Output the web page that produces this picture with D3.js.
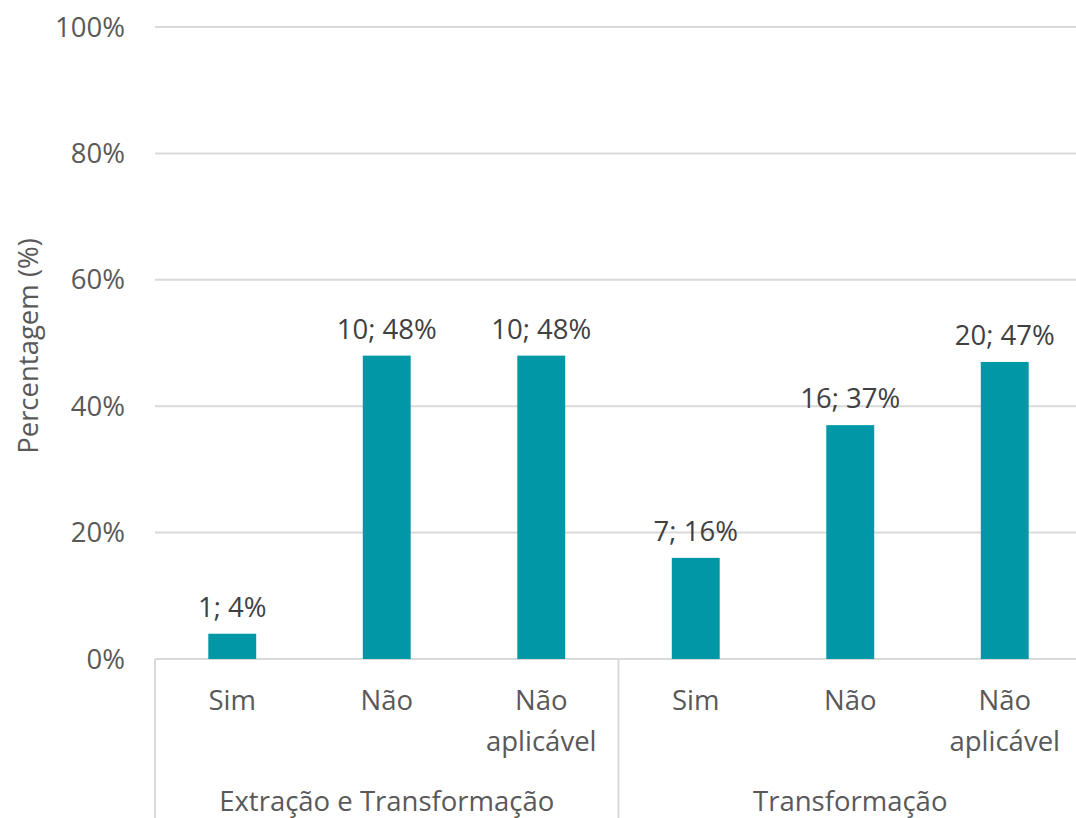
<!DOCTYPE html>
<meta charset="utf-8">
<style>
body { margin: 0; background: #fff; }
text { font-family: "Open Sans", "Noto Sans", sans-serif; }
.grid line { stroke: #d9d9d9; stroke-width: 2px; }
.tick-label { fill: #595959; font-size: 27.5px; }
.bar-label { fill: #404040; font-size: 27.5px; }
</style>
<body>
<script src="https://cdn.jsdelivr.net/npm/d3@7"></script>
<script>

// data
var groups = ["Extração e Transformação", "Transformação"];
var answers = ["Sim", "Não", "Não aplicável"];
var counts = [1, 10, 10, 7, 16, 20];
var percents = [4, 48, 48, 16, 37, 47];
var yTicks = [0, 20, 40, 60, 80, 100];

var W = 1076, H = 818;
var margin = {top: 27, left: 155, bottom: 159};
var plotH = H - margin.top - margin.bottom;
var plotW = 927;

var rows = [];
groups.forEach(function(g, gi) {
  answers.forEach(function(a, ai) {
    var i = gi * answers.length + ai;
    rows.push({key: g + "|" + a, group: g, answer: a, n: counts[i], p: percents[i]});
  });
});

var x = d3.scaleBand()
    .domain(rows.map(function(d) { return d.key; }))
    .range([0, plotW])
    .paddingInner(0.69)
    .paddingOuter(0.345);

var y = d3.scaleLinear().domain([0, 100]).range([plotH, 0]);

var svg = d3.select("body").append("svg")
    .attr("width", W)
    .attr("height", H)
  .append("g")
    .attr("transform", "translate(" + margin.left + "," + margin.top + ")");

// gridlines
svg.append("g")
    .attr("class", "grid")
    .selectAll("line")
    .data(yTicks)
  .enter().append("line")
    .attr("x1", 0)
    .attr("x2", plotW)
    .attr("y1", function(d) { return y(d); })
    .attr("y2", function(d) { return y(d); });

// y tick labels
svg.selectAll(".ytick")
    .data(yTicks)
  .enter().append("text")
    .attr("class", "tick-label")
    .attr("x", -30)
    .attr("y", function(d) { return y(d); })
    .attr("dy", "0.35em")
    .attr("text-anchor", "end")
    .text(function(d) { return d + "%"; });

// y axis title
svg.append("text")
    .attr("class", "tick-label")
    .attr("transform", "translate(" + (-127) + "," + (plotH / 2 + 3) + ") rotate(-90)")
    .attr("text-anchor", "middle")
    .attr("dy", "0.35em")
    .text("Percentagem (%)");

// bars
svg.selectAll(".bar")
    .data(rows)
  .enter().append("rect")
    .attr("x", function(d) { return x(d.key); })
    .attr("width", x.bandwidth())
    .attr("y", function(d) { return y(d.p); })
    .attr("height", function(d) { return plotH - y(d.p); })
    .attr("fill", "#0097a7");

// bar labels
svg.selectAll(".blabel")
    .data(rows)
  .enter().append("text")
    .attr("class", "bar-label")
    .attr("x", function(d) { return x(d.key) + x.bandwidth() / 2; })
    .attr("y", function(d) { return y(d.p) - 17; })
    .attr("text-anchor", "middle")
    .text(function(d) { return d.n + "; " + d.p + "%"; });

// category labels (first level)
var step = x.step();
svg.selectAll(".clabel")
    .data(rows)
  .enter().append("text")
    .attr("class", "tick-label")
    .attr("x", function(d) { return x(d.key) + x.bandwidth() / 2; })
    .attr("y", plotH + 51)
    .attr("text-anchor", "middle")
    .each(function(d) {
      var words = d.answer === "Não aplicável" ? ["Não", "aplicável"] : [d.answer];
      var t = d3.select(this);
      words.forEach(function(w, i) {
        t.append("tspan")
          .attr("x", x(d.key) + x.bandwidth() / 2)
          .attr("dy", i ? 41 : 0)
          .text(w);
      });
    });

// group labels (second level)
svg.selectAll(".glabel")
    .data(groups)
  .enter().append("text")
    .attr("class", "tick-label")
    .attr("x", function(g, gi) { return (gi + 0.5) * answers.length * step; })
    .attr("y", plotH + 152)
    .attr("text-anchor", "middle")
    .text(function(g) { return g; });

// separators
var seps = d3.range(groups.length + 1).map(function(i) { return i * answers.length * step; });
svg.selectAll(".sep")
    .data(seps)
  .enter().append("line")
    .attr("x1", function(d) { return d; })
    .attr("x2", function(d) { return d; })
    .attr("y1", plotH)
    .attr("y2", H - margin.top)
    .attr("stroke", "#d9d9d9")
    .attr("stroke-width", 2);

</script>
</body>
